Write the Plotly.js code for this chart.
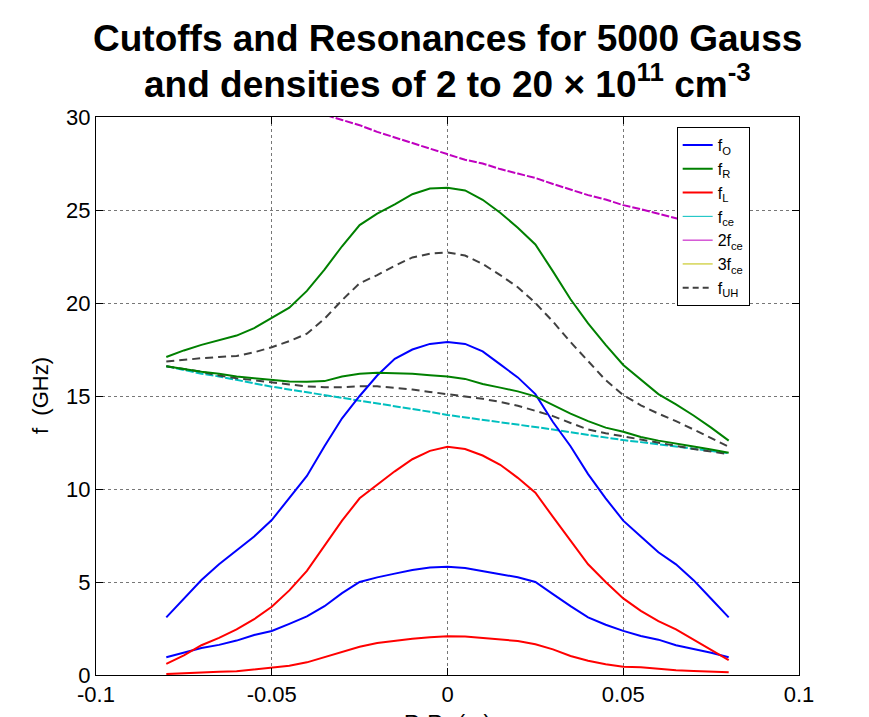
<!DOCTYPE html>
<html>
<head>
<meta charset="utf-8">
<script src="https://cdn.plot.ly/plotly-3.0.1.min.js"></script>
<style>html,body{margin:0;padding:0;background:#fff;}#chart{width:869px;height:717px;}</style>
</head>
<body>
<div id="chart"></div>
<script>
// Positions R-R0 (m)
const xs = [-0.08,-0.075,-0.07,-0.065,-0.06,-0.055,-0.05,-0.045,-0.04,-0.035,-0.03,-0.025,-0.02,-0.015,-0.01,-0.005,0,
            0.005,0.01,0.015,0.02,0.025,0.03,0.035,0.04,0.045,0.05,0.055,0.06,0.065,0.07,0.075,0.08];

// O-mode cutoff (high / low density)
const fO_high = [3.10,4.11,5.11,5.95,6.70,7.45,8.33,9.50,10.7,12.3,13.8,15.0,16.1,17.0,17.5,17.8,17.9,
                 17.8,17.4,16.7,16.0,15.1,13.6,12.3,10.8,9.5,8.3,7.45,6.6,5.95,5.1,4.1,3.1];
const fO_low  = [0.95,1.2,1.45,1.62,1.85,2.15,2.37,2.75,3.15,3.7,4.4,5.0,5.25,5.45,5.65,5.78,5.82,
                 5.75,5.6,5.42,5.25,5.0,4.35,3.7,3.1,2.7,2.37,2.1,1.9,1.6,1.4,1.2,0.95];
// R cutoff
const fR_high = [17.1,17.45,17.75,18.0,18.25,18.65,19.18,19.75,20.65,21.8,23.05,24.19,24.8,25.3,25.85,26.15,26.2,
                 26.05,25.55,24.85,24.05,23.15,21.7,20.2,18.9,17.75,16.67,15.9,15.1,14.55,13.95,13.3,12.6];
const fR_low  = [16.6,16.45,16.3,16.2,16.05,15.95,15.86,15.78,15.77,15.8,16.05,16.2,16.25,16.22,16.2,16.12,16.05,
                 15.92,15.65,15.45,15.25,14.98,14.5,14.05,13.65,13.3,13.08,12.8,12.6,12.42,12.28,12.12,11.95];
// L cutoff
const fL_high = [0.6,1.05,1.6,2.0,2.45,3.0,3.67,4.55,5.6,6.95,8.3,9.5,10.25,10.95,11.6,12.05,12.27,
                 12.15,11.8,11.3,10.6,9.8,8.5,7.2,5.95,5.0,4.12,3.45,2.9,2.45,1.9,1.35,0.8];
const fL_low  = [0.05,0.1,0.15,0.17,0.2,0.3,0.38,0.5,0.68,0.95,1.25,1.52,1.72,1.85,1.95,2.03,2.08,
                 2.07,2.0,1.93,1.83,1.65,1.38,1.02,0.77,0.58,0.45,0.42,0.32,0.26,0.22,0.19,0.15];
// Cyclotron harmonics
const fce  = [16.6,16.4,16.2,16.05,15.85,15.68,15.5,15.35,15.2,15.05,14.92,14.78,14.6,14.45,14.3,14.15,13.98,
              13.85,13.75,13.6,13.48,13.36,13.2,13.05,12.9,12.78,12.63,12.52,12.4,12.28,12.15,12.05,11.92];
const f2ce = [33.2,32.8,32.4,32.1,31.7,31.36,31.0,30.7,30.4,30.1,29.84,29.56,29.2,28.9,28.6,28.3,27.96,
              27.7,27.5,27.2,26.96,26.72,26.4,26.1,25.8,25.56,25.26,25.04,24.8,24.56,24.3,24.1,23.84];
const f3ce = [49.8,49.2,48.6,48.15,47.55,47.0,46.5,46.05,45.6,45.15,44.76,44.34,43.8,43.35,42.9,42.45,41.94,
              41.55,41.25,40.8,40.44,40.08,39.6,39.15,38.7,38.34,37.89,37.56,37.2,36.84,36.45,36.15,35.76];
// Upper hybrid
const fUH_high = [16.85,16.95,17.03,17.1,17.15,17.35,17.62,17.95,18.35,19.15,20.15,21.06,21.5,22.0,22.45,22.65,22.72,
                  22.55,22.1,21.5,20.85,20.0,19.0,17.9,16.9,15.85,15.05,14.5,14.05,13.65,13.2,12.75,12.27];
const fUH_low  = [16.6,16.45,16.3,16.1,15.95,15.85,15.72,15.62,15.52,15.47,15.47,15.52,15.52,15.45,15.35,15.22,15.1,
                  15.0,14.85,14.68,14.48,14.2,13.92,13.55,13.2,13.0,12.82,12.65,12.5,12.32,12.15,12.0,11.88];

const xTickVals = [-0.1,-0.05,0,0.05,0.1];
const xTickText = ["-0.1","-0.05","0","0.05","0.1"];
const yTickVals = [0,5,10,15,20,25,30];
const yTickText = ["0","5","10","15","20","25","30"];

const FONT = "Liberation Sans, Arial, Helvetica, sans-serif";
const BLUE="#0000ff", GREEN="#008000", RED="#ff0000", CYAN="#00bfbf", MAG="#bf00bf", YEL="#bfbf00", GREY="#404040";

function tr(y, name, color, width, dash, show, group){
  return {x: xs, y: y, type:'scatter', mode:'lines', name: name, legendgroup: group,
          showlegend: show, line:{color: color, width: width, dash: dash || 'solid'}, hoverinfo:'skip'};
}
const traces = [
  tr(fce, "f<sub>ce</sub>", CYAN, 2, '8px,2px', false, 'ce'),
  tr(f2ce, "2f<sub>ce</sub>", MAG, 2, '8px,2px', false, 'ce2'),
  tr(f3ce, "3f<sub>ce</sub>", YEL, 1, 'solid', false, 'ce3'),
  tr(fUH_high, "f<sub>UH</sub>", GREY, 2, '8px,5px', false, 'uh'),
  tr(fUH_low, "f<sub>UH</sub>", GREY, 2, '8px,5px', false, 'uh'),
  tr(fO_high, "f<sub>O</sub>", BLUE, 2, 'solid', true, 'o'),
  tr(fO_low, "f<sub>O</sub>", BLUE, 2, 'solid', false, 'o'),
  tr(fR_high, "f<sub>R</sub>", GREEN, 2, 'solid', true, 'r'),
  tr(fR_low, "f<sub>R</sub>", GREEN, 2, 'solid', false, 'r'),
  tr(fL_high, "f<sub>L</sub>", RED, 2, 'solid', true, 'l'),
  tr(fL_low, "f<sub>L</sub>", RED, 2, 'solid', false, 'l'),
  // legend-only entries in MATLAB order (drawn thin like the reference legend)
  {x:[null], y:[null], type:'scatter', mode:'lines', name:"f<sub>ce</sub>", line:{color:CYAN,width:1}, showlegend:true, legendgroup:'ce'},
  {x:[null], y:[null], type:'scatter', mode:'lines', name:"2f<sub>ce</sub>", line:{color:MAG,width:1}, showlegend:true, legendgroup:'ce2'},
  {x:[null], y:[null], type:'scatter', mode:'lines', name:"3f<sub>ce</sub>", line:{color:YEL,width:1}, showlegend:true, legendgroup:'ce3'},
  {x:[null], y:[null], type:'scatter', mode:'lines', name:"f<sub>UH</sub>", line:{color:GREY,width:2,dash:'6px,4px'}, showlegend:true, legendgroup:'uh'}
];

const axisCommon = {
  showline:true, linecolor:'#000', linewidth:1, mirror:'ticks',
  ticks:'inside', ticklen:7, tickcolor:'#000', tickwidth:1,
  showgrid:true, gridcolor:'#777', gridwidth:1, griddash:'dot',
  zeroline:false, tickfont:{family:FONT, size:22, color:'#000'}
};

const layout = {
  width:869, height:717,
  margin:{l:96, r:70, t:117, b:42, pad:0},
  paper_bgcolor:'#fff', plot_bgcolor:'#fff',
  showlegend:true,
  legend:{x:0.826, y:0.982, xanchor:'left', yanchor:'top', bgcolor:'#fff',
          bordercolor:'#000', borderwidth:1, font:{family:FONT, size:16, color:'#000'},
          itemwidth:30, tracegroupgap:0, traceorder:'normal'},
  xaxis: Object.assign({}, axisCommon, {range:[-0.1,0.1], tickmode:'array', tickvals:xTickVals, ticktext:xTickText}),
  yaxis: Object.assign({}, axisCommon, {range:[0,30], tickmode:'array', tickvals:yTickVals, ticktext:yTickText}),
  annotations:[
    {text:"Cutoffs and Resonances for 5000 Gauss", xref:'paper', yref:'paper', x:0.5, y:(675-39)/558,
     xanchor:'center', yanchor:'middle', showarrow:false, font:{family:FONT, size:37, color:'#000', weight:'bold'}},
    {text:"and densities of 2 to 20 × 10<sup>11</sup> cm<sup>-3</sup>", xref:'paper', yref:'paper', x:0.5, y:(675-82)/558,
     xanchor:'center', yanchor:'middle', showarrow:false, font:{family:FONT, size:37, color:'#000', weight:'bold'}},
    {text:"f  (GHz)", xref:'paper', yref:'paper', x:(40-96)/703, y:0.5, textangle:-90,
     xanchor:'center', yanchor:'middle', showarrow:false, font:{family:FONT, size:22, color:'#000'}},
    {text:"R-R<sub>0</sub> (m)", xref:'paper', yref:'paper', x:0.5, y:(675-708)/558,
     xanchor:'center', yanchor:'top', showarrow:false, font:{family:FONT, size:22, color:'#000'}}
  ]
};

Plotly.newPlot('chart', traces, layout, {staticPlot:true, displayModeBar:false});
</script>
</body>
</html>
